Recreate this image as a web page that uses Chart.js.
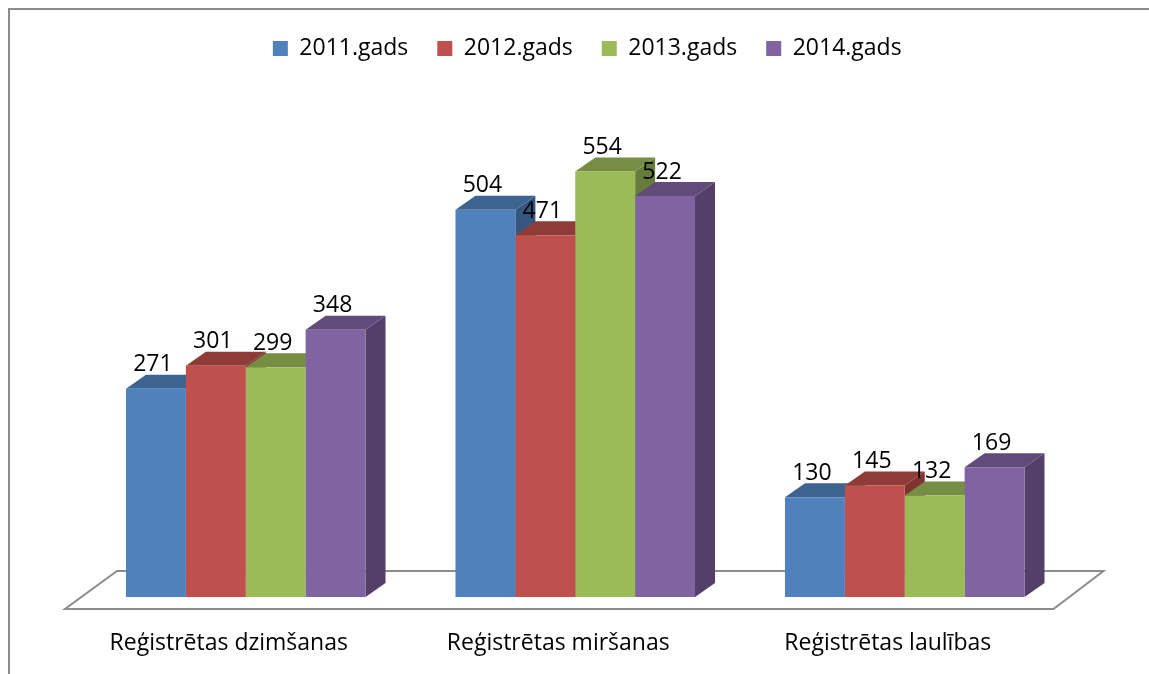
<!DOCTYPE html>
<html>
<head>
<meta charset="utf-8">
<script src="https://cdn.jsdelivr.net/npm/chart.js@4/dist/chart.umd.min.js"></script>
<style>
  html, body { margin: 0; padding: 0; background: #fff; }
</style>
</head>
<body>
<canvas id="grafiks" width="1149" height="674"></canvas>
<script>
// dati
const kategorijas = ['Reģistrētas dzimšanas', 'Reģistrētas miršanas', 'Reģistrētas laulības'];
const gadi = ['2011.gads', '2012.gads', '2013.gads', '2014.gads'];
const v2011 = [271, 504, 130];
const v2012 = [301, 471, 145];
const v2013 = [299, 554, 132];
const v2014 = [348, 522, 169];

const krasas = ['#4F81BD', '#C0504D', '#9BBB59', '#8064A2'];
const augsa = ['#3C6391', '#8F3B38', '#758E43', '#604B7B'];
const sani = ['#35577F', '#7D3331', '#667C3A', '#533F6A'];

const FONTS = '"Open Sans", "DejaVu Sans", sans-serif';
const DX = 20, DY = -14;   // stabinu dziļums

function poly(ctx, pts, fill) {
    ctx.beginPath();
    ctx.moveTo(pts[0][0], pts[0][1]);
    for (let k = 1; k < pts.length; k++) ctx.lineTo(pts[k][0], pts[k][1]);
    ctx.closePath();
    ctx.fillStyle = fill;
    ctx.fill();
}

const telpa = {
    id: 'telpa',
    afterLayout(chart) {
        // leģenda nedaudz pa labi, kā oriģinālā
        chart.legend.left += 12;
        chart.legend.right += 12;
    },
    beforeDraw(chart) {
        const ctx = chart.ctx;
        ctx.save();
        ctx.strokeStyle = '#8c8c8c';
        ctx.lineWidth = 2;
        ctx.beginPath();
        ctx.moveTo(9, 674);
        ctx.lineTo(9, 9);
        ctx.lineTo(1149, 9);
        ctx.stroke();
        ctx.restore();
    },
    beforeDatasetsDraw(chart) {
        const ctx = chart.ctx, a = chart.chartArea;
        ctx.save();
        // grīda
        ctx.beginPath();
        ctx.moveTo(a.left - 16, a.bottom + 12);
        ctx.lineTo(a.right - 16, a.bottom + 12);
        ctx.lineTo(a.right + 34, a.bottom - 26);
        ctx.lineTo(a.left + 36, a.bottom - 26);
        ctx.closePath();
        ctx.fillStyle = '#fff';
        ctx.fill();
        ctx.strokeStyle = '#8c8c8c';
        ctx.lineWidth = 2;
        ctx.stroke();
        // sānu un augšējās skaldnes
        for (let j = 0; j < kategorijas.length; j++) {
            for (let i = 0; i < chart.data.datasets.length; i++) {
                const el = chart.getDatasetMeta(i).data[j];
                const l = el.x - el.width / 2, r = el.x + el.width / 2;
                const t = el.y, b = el.base;
                poly(ctx, [[r, t], [r + DX, t + DY], [r + DX, b + DY], [r, b]], sani[i]);
                poly(ctx, [[l, t], [r, t], [r + DX, t + DY], [l + DX, t + DY]], augsa[i]);
            }
        }
        ctx.restore();
    },
    afterDatasetsDraw(chart) {
        const ctx = chart.ctx;
        ctx.save();
        ctx.font = '23px ' + FONTS;
        ctx.fillStyle = '#000';
        ctx.textAlign = 'center';
        ctx.textBaseline = 'middle';
        chart.data.datasets.forEach((ds, i) => {
            chart.getDatasetMeta(i).data.forEach((el, j) => {
                ctx.fillText(String(ds.data[j]), el.x - 3, el.y - 24);
            });
        });
        ctx.restore();
    }
};

const serijas = [v2011, v2012, v2013, v2014];

new Chart(document.getElementById('grafiks'), {
    type: 'bar',
    data: {
        labels: kategorijas,
        datasets: serijas.map((d, i) => ({
            label: gadi[i],
            data: d,
            backgroundColor: krasas[i],
            borderWidth: 0,
            barPercentage: 1,
            categoryPercentage: 0.727
        }))
    },
    options: {
        responsive: false,
        animation: false,
        layout: { padding: { left: 81, right: 79.5, top: 8, bottom: 17 } },
        plugins: {
            tooltip: { enabled: false },
            legend: {
                position: 'top',
                labels: {
                    boxWidth: 15,
                    boxHeight: 15,
                    padding: 29,
                    color: '#000',
                    font: { size: 23, family: FONTS }
                }
            }
        },
        scales: {
            x: {
                grid: { display: false, drawTicks: false },
                border: { display: false },
                ticks: {
                    color: '#000',
                    font: { size: 23, family: FONTS },
                    padding: 33,
                    labelOffset: -17,
                    maxRotation: 0
                },
                afterFit(scale) { scale.height = 60; }
            },
            y: {
                display: false,
                min: 0,
                max: 686
            }
        }
    },
    plugins: [telpa]
});
</script>
</body>
</html>
